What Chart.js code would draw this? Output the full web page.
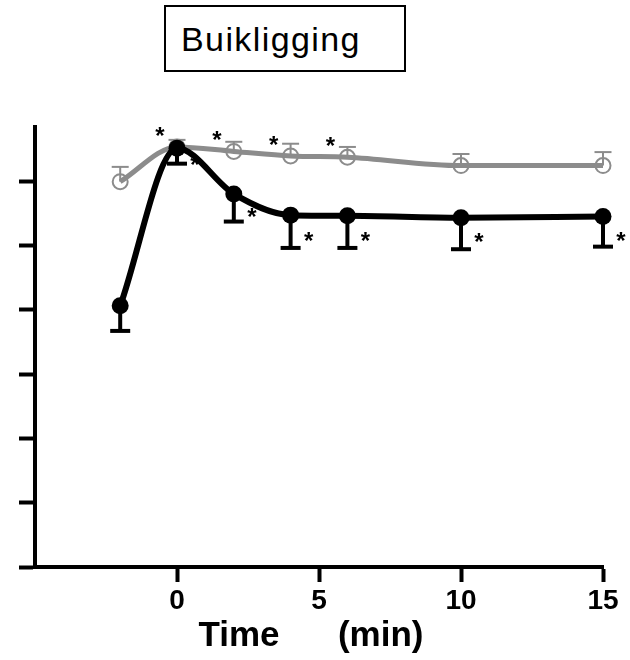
<!DOCTYPE html>
<html>
<head>
<meta charset="utf-8">
<title>Buikligging</title>
<script src="https://cdn.jsdelivr.net/npm/chart.js@4/dist/chart.umd.min.js"></script>
<style>
  html, body { margin: 0; padding: 0; background: #fff; }
  #wrap { position: relative; width: 630px; height: 660px; overflow: hidden; }
  #chart { position: absolute; left: 0; top: 0; }
  .box {
    position: absolute; left: 164px; top: 5px; width: 242px; height: 67px;
    box-sizing: border-box; border: 2px solid #000; padding: 2px 0 0 15px;
    font-family: "Liberation Sans", Arial, sans-serif; font-size: 34px;
    letter-spacing: 1.4px; line-height: 61px; color: #000; background: #fff;
  }
  .xtitle {
    position: absolute; left: 111px; width: 400px; top: 614px; height: 40px;
    text-align: center; white-space: pre; line-height: 40px;
    font-family: "Liberation Sans", Arial, sans-serif; font-weight: bold; font-size: 35px; color: #000;
  }
</style>
</head>
<body>
<div id="wrap">
  <canvas id="chart" width="630" height="660"></canvas>
  <div class="box">Buikligging</div>
  <div class="xtitle">Time      (min)</div>
</div>
<script>
// Measurement times (min)
const times = [-2, 0, 2, 4, 6, 10, 15];

// Filled circles: mean and downward SD
const blackMean = [40.6, 65.1, 58.0, 54.7, 54.6, 54.3, 54.5];
const blackSD   = [3.9, 2.4, 4.3, 5.1, 5.0, 4.9, 4.7];
const blackSig  = [false, true, true, true, true, true, true];

// Open circles: mean and upward SD
const greyMean = [59.9, 65.3, 64.6, 63.9, 63.7, 62.4, 62.4];
const greySD   = [2.3, 1.1, 1.5, 1.9, 1.6, 1.8, 2.1];
const greySig  = [false, true, true, true, true, false, false];

// Axis ticks
const xTickValues = [0, 5, 10, 15];
const yTickValues = [0, 10, 20, 30, 40, 50, 60];

const GREY = '#8c8c8c';

const toPoints = (means) => times.map((t, i) => ({ x: t, y: means[i] }));

// Error bars: a stem from the mean with a flat cap at mean ± SD
const errorBars = {
  id: 'errorBars',
  beforeDatasetsDraw(chart) {
    const { ctx, scales: { x, y } } = chart;
    chart.data.datasets.forEach((ds) => {
      if (!ds.errors) return;
      const dir = ds.errorDir === 'up' ? 1 : -1;
      ctx.save();
      ctx.strokeStyle = ds.errorColor;
      ds.data.forEach((p, i) => {
        const px = x.getPixelForValue(p.x);
        const py = y.getPixelForValue(p.y);
        const ey = y.getPixelForValue(p.y + dir * ds.errors[i]);
        ctx.lineWidth = ds.errorWidth;
        ctx.beginPath();
        ctx.moveTo(px, py);
        ctx.lineTo(px, ey);
        ctx.stroke();
        ctx.lineWidth = ds.capThickness;
        ctx.beginPath();
        ctx.moveTo(px - ds.capHalf, ey);
        ctx.lineTo(px + ds.capHalf, ey);
        ctx.stroke();
      });
      ctx.restore();
    });
  }
};

// Significance asterisks next to the marked time points
const asterisks = {
  id: 'asterisks',
  afterDatasetsDraw(chart) {
    const { ctx, scales: { x, y } } = chart;
    ctx.save();
    ctx.fillStyle = '#000';
    ctx.font = 'bold 24px "Liberation Sans", Arial, sans-serif';
    ctx.textAlign = 'center';
    ctx.textBaseline = 'alphabetic';
    chart.data.datasets.forEach((ds) => {
      if (!ds.sig) return;
      ds.data.forEach((p, i) => {
        if (!ds.sig[i]) return;
        const px = x.getPixelForValue(p.x);
        const py = y.getPixelForValue(p.y);
        let cx, cy;
        if (ds.errorDir === 'up') {
          cx = px - 17; cy = py - 16;
        } else {
          const ey = y.getPixelForValue(p.y - ds.errors[i]);
          cx = px + 18; cy = (py + ey) / 2 + 4;
        }
        ctx.fillText('*', cx, cy + 13);
      });
    });
    ctx.restore();
  }
};

new Chart(document.getElementById('chart'), {
  type: 'line',
  data: {
    datasets: [
      {
        label: 'filled',
        data: toPoints(blackMean),
        errors: blackSD, errorDir: 'down', sig: blackSig,
        errorColor: '#000', errorWidth: 4, capThickness: 4, capHalf: 10,
        borderColor: '#000', borderWidth: 6,
        pointRadius: 8.5, pointBackgroundColor: '#000', pointBorderColor: '#000', pointBorderWidth: 0,
        cubicInterpolationMode: 'monotone', clip: false
      },
      {
        label: 'open',
        data: toPoints(greyMean),
        errors: greySD, errorDir: 'up', sig: greySig,
        errorColor: GREY, errorWidth: 2, capThickness: 2, capHalf: 8.5,
        borderColor: GREY, borderWidth: 5,
        pointRadius: 7.5, pointBackgroundColor: 'rgba(255,255,255,0)', pointBorderColor: GREY, pointBorderWidth: 2,
        cubicInterpolationMode: 'monotone', clip: false
      }
    ]
  },
  options: {
    responsive: false,
    animation: false,
    layout: { padding: { top: 127, right: 27, left: 0, bottom: 0 } },
    plugins: { legend: { display: false }, tooltip: { enabled: false }, title: { display: false } },
    scales: {
      x: {
        type: 'linear', min: -5, max: 15,
        afterBuildTicks: (s) => { s.ticks = xTickValues.map((v) => ({ value: v })); },
        afterFit: (s) => { s.height = 93; },
        ticks: {
          autoSkip: false, maxRotation: 0, padding: 2, color: '#000',
          font: { family: '"Liberation Sans", Arial, sans-serif', size: 28, weight: 'bold' }
        },
        grid: { drawOnChartArea: false, drawTicks: true, tickLength: 15, tickWidth: 4, tickColor: '#000' },
        border: { display: true, color: '#000', width: 4 }
      },
      y: {
        type: 'linear', min: 0, max: 68.4,
        afterBuildTicks: (s) => { s.ticks = yTickValues.map((v) => ({ value: v })); },
        afterFit: (s) => { s.width = 35; },
        ticks: { display: false },
        grid: { drawOnChartArea: false, drawTicks: true, tickLength: 16, tickWidth: 4, tickColor: '#000' },
        border: { display: true, color: '#000', width: 4 }
      }
    }
  },
  plugins: [errorBars, asterisks]
});
</script>
</body>
</html>
